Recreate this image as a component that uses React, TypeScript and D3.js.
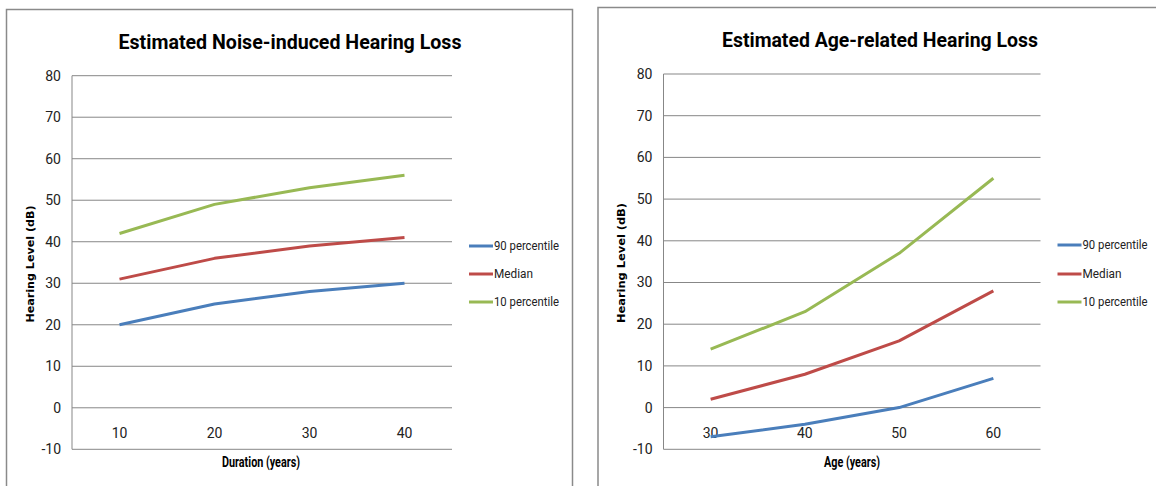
import React from "react";
import * as d3 from "d3";

// ---------- data ----------
const noiseTitle = "Estimated Noise-induced Hearing Loss";
const ageTitle = "Estimated Age-related Hearing Loss";
const noiseXTitle = "Duration (years)";
const ageXTitle = "Age (years)";
const noiseYTitle = "Hearing Level (dB)";
const ageYTitle = "Hearing Level  (dB)";

const noiseCategories = ["10", "20", "30", "40"];
const noise90 = [20, 25, 28, 30];
const noiseMedian = [31, 36, 39, 41];
const noise10 = [42, 49, 53, 56];

const ageCategories = ["30", "40", "50", "60"];
const age90 = [-7, -4, 0, 7];
const ageMedian = [2, 8, 16, 28];
const age10 = [14, 23, 37, 55];

const yTicks = [-10, 0, 10, 20, 30, 40, 50, 60, 70, 80];
const seriesNames = ["90 percentile", "Median", "10 percentile"];
const seriesColors = ["#4a7ebb", "#be4b48", "#98b954"];

const NARROW = "'Liberation Sans Narrow', 'Arial Narrow', 'Roboto', sans-serif";
const BOLDWIDE = "'DejaVu Sans', Verdana, sans-serif";

type PanelProps = {
  title: string;
  xTitle: string;
  yTitle: string;
  categories: string[];
  series: number[][];
  box: { x: number; y: number; w: number; h: number };
  plot: { left: number; right: number; top: number; bottom: number };
  titleX: number;
  titleY: number;
  titleLen: number;
  yTitleX: number;
  yTitleY: number;
  yTitleLen: number;
  xTitleX: number;
  xTitleLen: number;
  legendX: number;
  legendY: number[];
  legendTextLen: number[];
};

function Panel(p: PanelProps) {
  const x = d3
    .scaleBand<string>()
    .domain(p.categories)
    .range([p.plot.left, p.plot.right])
    .padding(0);
  const y = d3.scaleLinear().domain([-10, 80]).range([p.plot.bottom, p.plot.top]);
  const line = d3
    .line<number>()
    .x((_, i) => (x(p.categories[i]) as number) + x.bandwidth() / 2)
    .y((v) => y(v));
  const grid = "#878787";
  return (
    <g>
      <path
        d={`M${p.box.x},${p.box.y + p.box.h} V${p.box.y} H${p.box.x + p.box.w} V${p.box.y + p.box.h}`}
        fill="none"
        stroke="#8a8a8a"
        strokeWidth={1.5}
      />
      <text
        x={p.titleX}
        y={p.titleY}
        textAnchor="middle"
        fontFamily={NARROW}
        fontWeight="bold"
        fontSize={21}
        textLength={p.titleLen}
        lengthAdjust="spacingAndGlyphs"
        fill="#000"
      >
        {p.title}
      </text>
      {yTicks.map((t) => (
        <g key={t}>
          <line x1={p.plot.left} x2={p.plot.right} y1={y(t)} y2={y(t)} stroke={grid} strokeWidth={1} />
          <text
            x={p.plot.left - 11}
            y={y(t)}
            dy="0.35em"
            textAnchor="end"
            fontFamily={NARROW}
            fontSize={14}
            fill="#222"
          >
            {t}
          </text>
        </g>
      ))}
      <line x1={p.plot.left} x2={p.plot.left} y1={p.plot.top} y2={p.plot.bottom} stroke={grid} strokeWidth={1} />
      {p.categories.map((c) => (
        <text
          key={c}
          x={(x(c) as number) + x.bandwidth() / 2}
          y={y(0) + 25}
          dy="0.35em"
          textAnchor="middle"
          fontFamily={NARROW}
          fontSize={14}
          fill="#222"
        >
          {c}
        </text>
      ))}
      {p.series.map((s, i) => (
        <path key={i} d={line(s) || ""} fill="none" stroke={seriesColors[i]} strokeWidth={3} strokeLinejoin="round" />
      ))}
      <text
        transform={`translate(${p.yTitleX},${p.yTitleY}) rotate(-90)`}
        textAnchor="middle"
        fontFamily={BOLDWIDE}
        fontWeight="bold"
        fontSize={10.5}
        textLength={p.yTitleLen}
        lengthAdjust="spacingAndGlyphs"
        fill="#000"
      >
        {p.yTitle}
      </text>
      <text
        x={p.xTitleX}
        y={467}
        textAnchor="middle"
        fontFamily={NARROW}
        fontWeight="bold"
        fontSize={14}
        textLength={p.xTitleLen}
        lengthAdjust="spacingAndGlyphs"
        fill="#000"
      >
        {p.xTitle}
      </text>
      {seriesNames.map((n, i) => (
        <g key={n}>
          <line
            x1={p.legendX}
            x2={p.legendX + 24}
            y1={p.legendY[i]}
            y2={p.legendY[i]}
            stroke={seriesColors[i]}
            strokeWidth={3}
          />
          <text
            x={p.legendX + 25}
            y={p.legendY[i]}
            dy="0.35em"
            fontFamily={NARROW}
            fontSize={12.5}
            textLength={p.legendTextLen[i]}
            lengthAdjust="spacingAndGlyphs"
            fill="#222"
          >
            {n}
          </text>
        </g>
      ))}
    </g>
  );
}

export default function App() {
  return (
    <svg
      width={1156}
      height={486}
      style={{ position: "absolute", left: 0, top: 0, background: "#fff" }}
    >
      <rect x={0} y={0} width={1156} height={486} fill="#fff" />
      <Panel
        title={noiseTitle}
        xTitle={noiseXTitle}
        yTitle={noiseYTitle}
        categories={noiseCategories}
        series={[noise90, noiseMedian, noise10]}
        box={{ x: 6.5, y: 9.5, w: 566, h: 480 }}
        plot={{ left: 72, right: 452, top: 75.7, bottom: 449.3 }}
        titleX={290}
        titleY={49}
        titleLen={343}
        yTitleX={34}
        yTitleY={264}
        yTitleLen={117}
        xTitleX={261}
        xTitleLen={78}
        legendX={469}
        legendY={[246, 274, 302]}
        legendTextLen={[65, 39, 65]}
      />
      <Panel
        title={ageTitle}
        xTitle={ageXTitle}
        yTitle={ageYTitle}
        categories={ageCategories}
        series={[age90, ageMedian, age10]}
        box={{ x: 598, y: 7.5, w: 600, h: 480 }}
        plot={{ left: 663.5, right: 1040.5, top: 74, bottom: 449.3 }}
        titleX={880}
        titleY={47}
        titleLen={316}
        yTitleX={625}
        yTitleY={263}
        yTitleLen={120}
        xTitleX={852}
        xTitleLen={56}
        legendX={1057.5}
        legendY={[245, 274, 302]}
        legendTextLen={[65, 39, 65]}
      />
    </svg>
  );
}
